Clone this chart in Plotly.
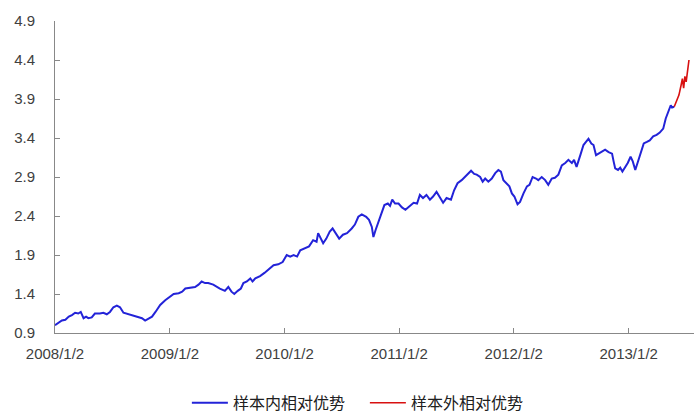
import plotly.graph_objects as go

# In-sample relative advantage (blue)
in_dates = [
    "2008-01-02", "2008-01-13", "2008-01-24", "2008-02-04", "2008-02-15", "2008-02-25",
    "2008-03-06", "2008-03-16", "2008-03-24", "2008-04-02", "2008-04-10", "2008-04-17",
    "2008-04-28", "2008-05-08", "2008-05-24", "2008-06-04", "2008-06-15", "2008-06-25",
    "2008-07-06", "2008-07-17", "2008-07-27", "2008-08-07", "2008-08-23", "2008-09-08",
    "2008-09-21", "2008-10-05", "2008-10-15", "2008-10-26", "2008-11-06", "2008-11-17",
    "2008-11-27", "2008-12-02", "2008-12-18", "2009-01-04", "2009-01-14", "2009-01-30",
    "2009-02-10", "2009-02-20", "2009-03-07", "2009-03-23", "2009-04-03", "2009-04-13",
    "2009-04-24", "2009-05-04", "2009-05-20", "2009-05-31", "2009-06-10", "2009-06-26",
    "2009-07-07", "2009-07-17", "2009-07-26", "2009-08-06", "2009-08-16", "2009-08-24",
    "2009-09-04", "2009-09-15", "2009-09-22", "2009-10-01", "2009-10-16", "2009-10-30",
    "2009-11-12", "2009-11-28", "2009-12-13", "2009-12-27", "2010-01-09", "2010-01-20",
    "2010-01-31", "2010-02-11", "2010-02-21", "2010-03-07", "2010-03-21", "2010-04-03",
    "2010-04-14", "2010-04-19", "2010-04-26", "2010-05-05", "2010-05-15", "2010-05-26",
    "2010-06-04", "2010-06-14", "2010-06-25", "2010-07-07", "2010-07-20", "2010-08-04",
    "2010-08-14", "2010-08-25", "2010-09-05", "2010-09-19", "2010-09-28", "2010-10-07",
    "2010-10-12", "2010-10-19", "2010-10-30", "2010-11-08", "2010-11-16", "2010-11-27",
    "2010-12-04", "2010-12-11", "2010-12-20", "2010-12-31", "2011-01-11", "2011-01-22",
    "2011-02-03", "2011-02-17", "2011-02-28", "2011-03-09", "2011-03-19", "2011-03-30",
    "2011-04-10", "2011-04-20", "2011-05-01", "2011-05-11", "2011-05-22", "2011-06-02",
    "2011-06-16", "2011-06-26", "2011-07-07", "2011-07-20", "2011-07-30", "2011-08-10",
    "2011-08-19", "2011-08-29", "2011-09-06", "2011-09-17", "2011-09-25", "2011-10-03",
    "2011-10-13", "2011-10-24", "2011-11-04", "2011-11-14", "2011-11-22", "2011-11-30",
    "2011-12-11", "2011-12-19", "2011-12-27", "2012-01-04", "2012-01-14", "2012-01-22",
    "2012-02-02", "2012-02-13", "2012-02-21", "2012-03-02", "2012-03-13", "2012-03-20",
    "2012-03-31", "2012-04-11", "2012-04-21", "2012-05-02", "2012-05-12", "2012-05-23",
    "2012-06-03", "2012-06-14", "2012-06-24", "2012-07-05", "2012-07-12", "2012-07-20",
    "2012-08-01", "2012-08-11", "2012-08-19", "2012-08-27", "2012-09-05", "2012-09-12",
    "2012-09-20", "2012-09-28", "2012-10-09", "2012-10-19", "2012-10-30", "2012-11-10",
    "2012-11-15", "2012-11-20", "2012-11-29", "2012-12-06", "2012-12-13", "2012-12-22",
    "2012-12-30", "2013-01-08", "2013-01-15", "2013-01-23", "2013-02-01", "2013-02-09",
    "2013-02-19", "2013-03-01", "2013-03-10", "2013-03-21", "2013-04-01", "2013-04-11",
    "2013-04-22", "2013-04-30", "2013-05-08", "2013-05-16", "2013-05-20", "2013-05-27",
]
in_values = [
    1.00, 1.03, 1.06, 1.07, 1.11, 1.13,
    1.16, 1.15, 1.17, 1.09, 1.11, 1.09,
    1.10, 1.15, 1.15, 1.16, 1.14, 1.17,
    1.23, 1.25, 1.23, 1.16, 1.14, 1.12,
    1.10, 1.09, 1.06, 1.09, 1.11, 1.17,
    1.22, 1.26, 1.32, 1.37, 1.40, 1.41,
    1.43, 1.47, 1.48, 1.49, 1.52, 1.56,
    1.54, 1.54, 1.52, 1.49, 1.47, 1.44,
    1.49, 1.43, 1.40, 1.44, 1.47, 1.54,
    1.56, 1.60, 1.56, 1.60, 1.63, 1.67,
    1.71, 1.77, 1.78, 1.81, 1.90, 1.88,
    1.90, 1.88, 1.96, 1.99, 2.01, 2.09,
    2.07, 2.18, 2.13, 2.05, 2.11, 2.20,
    2.24, 2.18, 2.11, 2.16, 2.18, 2.24,
    2.29, 2.39, 2.42, 2.39, 2.35, 2.26,
    2.13, 2.22, 2.35, 2.43, 2.54, 2.56,
    2.53, 2.61, 2.56, 2.56, 2.51, 2.48,
    2.52, 2.57, 2.56, 2.67, 2.63, 2.67,
    2.61, 2.65, 2.71, 2.65, 2.57, 2.63,
    2.61, 2.73, 2.82, 2.86, 2.90, 2.95,
    2.98, 2.94, 2.93, 2.90, 2.84, 2.88,
    2.84, 2.88, 2.95, 2.99, 2.97, 2.86,
    2.82, 2.78, 2.69, 2.65, 2.55, 2.58,
    2.69, 2.78, 2.80, 2.90, 2.88, 2.86,
    2.90, 2.86, 2.80, 2.88, 2.89, 2.93,
    3.05, 3.08, 3.12, 3.08, 3.12, 3.03,
    3.18, 3.31, 3.35, 3.39, 3.33, 3.31,
    3.18, 3.20, 3.22, 3.25, 3.22, 3.20,
    3.10, 3.01, 2.99, 3.02, 2.97, 3.02,
    3.08, 3.16, 3.10, 2.99, 3.10, 3.18,
    3.33, 3.35, 3.37, 3.42, 3.44, 3.47,
    3.52, 3.65, 3.74, 3.82, 3.79, 3.80,
]

# Out-of-sample relative advantage (red)
out_dates = [
    "2013-05-27", "2013-06-04", "2013-06-11", "2013-06-18", "2013-06-22",
    "2013-06-26", "2013-06-30", "2013-07-04", "2013-07-09", "2013-07-13",
]
out_values = [3.80, 3.89, 3.95, 4.08, 4.16, 4.04, 4.19, 4.12, 4.29, 4.40]

x_tick_vals = ["2008-01-02", "2009-01-02", "2010-01-02", "2011-01-02", "2012-01-02", "2013-01-02"]
x_tick_text = ["2008/1/2", "2009/1/2", "2010/1/2", "2011/1/2", "2012/1/2", "2013/1/2"]
y_tick_vals = [0.9, 1.4, 1.9, 2.4, 2.9, 3.4, 3.9, 4.4, 4.9]

series_names = ["样本内相对优势", "样本外相对优势"]

fig = go.Figure()
fig.add_trace(go.Scatter(
    x=in_dates, y=in_values, mode="lines", name=series_names[0],
    line=dict(color="#2323D8", width=2),
))
fig.add_trace(go.Scatter(
    x=out_dates, y=out_values, mode="lines", name=series_names[1],
    line=dict(color="#D81010", width=1.6),
))

axis_font = dict(family="Liberation Sans, Arial, sans-serif", size=15, color="#404040")

fig.update_layout(
    width=699, height=417,
    margin=dict(l=55, r=5, t=21, b=84, autoexpand=False),
    paper_bgcolor="white", plot_bgcolor="white",
    showlegend=True,
    legend=dict(
        orientation="h", x=0.522, xanchor="center", xref="container",
        y=0.034, yanchor="middle", yref="container",
        font=dict(family="Noto Sans CJK SC, sans-serif", size=16, color="#202020"),
        itemwidth=36, tracegroupgap=0,
        entrywidth=127, entrywidthmode="pixels",
    ),
    xaxis=dict(
        type="date",
        range=["2008-01-02", "2013-07-29"],
        tickmode="array", tickvals=x_tick_vals, ticktext=x_tick_text,
        ticks="inside", ticklen=5, tickcolor="#888888", tickwidth=1,
        showline=True, linecolor="#888888", linewidth=1,
        showgrid=False, zeroline=False, automargin=False,
        tickfont=axis_font, ticklabelstandoff=7,
    ),
    yaxis=dict(
        range=[0.9, 4.9],
        tickmode="array", tickvals=y_tick_vals,
        tickformat=".1f",
        ticks="inside", ticklen=5, tickcolor="#888888", tickwidth=1,
        showline=True, linecolor="#888888", linewidth=1,
        showgrid=False, zeroline=False, automargin=False,
        tickfont=axis_font, ticklabelstandoff=16,
    ),
)

fig.write_html(
    "out.html",
    config={"displayModeBar": False},
    post_script="document.body.style.margin='0';document.body.style.overflow='hidden';",
)
